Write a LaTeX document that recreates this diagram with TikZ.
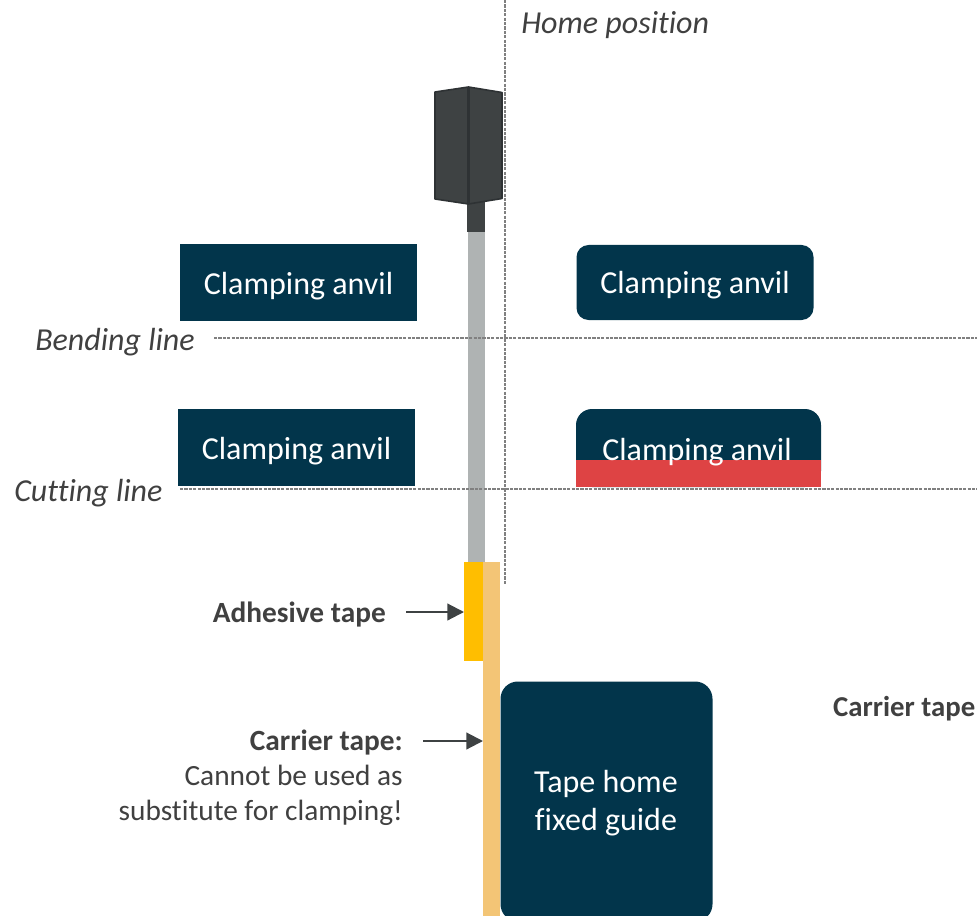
\documentclass[tikz,border=0pt]{standalone}
\usepackage{fontspec}
\setmainfont[Ligatures=CommonOff]{Carlito}
\definecolor{navy}{HTML}{02354B}
\definecolor{darkgrey}{HTML}{3E4243}
\definecolor{edgegrey}{HTML}{2E3234}
\definecolor{rodgrey}{HTML}{AFB3B3}
\definecolor{amber}{HTML}{FFBE00}
\definecolor{tantape}{HTML}{F3C576}
\definecolor{redbar}{HTML}{DE4344}
\definecolor{txt}{HTML}{404040}
\usetikzlibrary{arrows.meta}
\tikzset{
  anvil/.style={fill=navy,draw=none,text=white,minimum width=#1,inner sep=0pt,align=center,font=\fontsize{24}{28}\selectfont},
  anviltext/.style={text=white,inner sep=0pt,font=\fontsize{24}{28}\selectfont},
  dashline/.style={draw=black!50,line width=0.9pt,dash pattern=on 2.4pt off 0.9pt},
  lbl/.style={text=txt,inner sep=0pt,font=\fontsize{24}{28}\selectfont\itshape},
  note/.style={text=txt,inner sep=0pt,font=\fontsize{22}{26.3}\selectfont,align=right},
  notebold/.style={text=txt,inner sep=0pt,font=\fontsize{22}{26.3}\selectfont\bfseries},
  arrowline/.style={draw=darkgrey,line width=1.6pt,-{Triangle[length=12.5pt,width=12.5pt]}}
}
\begin{document}
\begin{tikzpicture}[x=0.75pt,y=-0.75pt]
\useasboundingbox (0,0) rectangle (977,916);
% dashed lines
\coordinate (homeT) at (505,0);
\coordinate (homeB) at (505,584);
\coordinate (bendL) at (214,338);
\coordinate (bendR) at (977,338);
\coordinate (cutL) at (180,489);
\coordinate (cutR) at (977,489);
% rod and holder
\fill[rodgrey] (468,231) rectangle (485,562);
\draw[dashline] (homeT) -- (homeB);
\draw[dashline] (bendL) -- (bendR);
\draw[dashline] (cutL) -- (cutR);
\fill[darkgrey] (467,200) rectangle (485,232);
\draw[fill=darkgrey,draw=edgegrey,line width=1.2pt,line join=round]
  (435,92) -- (468.5,87) -- (468.5,204) -- (435,199) -- cycle;
\draw[fill=darkgrey,draw=edgegrey,line width=1.2pt,line join=round]
  (468.5,87) -- (502,92.5) -- (502,198.5) -- (468.5,204) -- cycle;
\draw[edgegrey,line width=2pt] (468.5,87) -- (468.5,204);
% anvils
\node[anvil=237*0.75pt,minimum height=77*0.75pt] (a1) at (298.5,282.5) {};
\node[anviltext] (a1t) at (298.5,286) {Clamping anvil};
\node[anvil=237*0.75pt,minimum height=75*0.75pt,rounded corners=9pt] (a2) at (695,282.5) {};
\node[anviltext] (a2t) at (695,285.5) {Clamping anvil};
\node[anvil=237*0.75pt,minimum height=77*0.75pt] (a3) at (296.5,447.5) {};
\node[anviltext] (a3t) at (296.5,451) {Clamping anvil};
\node[anvil=245*0.75pt,minimum height=78*0.75pt,rounded corners=12pt] (a4) at (698.5,448) {};
\fill[redbar] (576,460) rectangle (821,487);
\node[anviltext] (a4t) at (697,452) {Clamping anvil};
% tapes
\fill[amber] (464,562) rectangle (484,661);
\fill[tantape] (483,562) rectangle (500,916);
\node[fill=navy,draw=none,rounded corners=13pt,minimum width=212*0.75pt,minimum height=240*0.75pt,inner sep=0pt] (guide) at (606.5,801.5) {};
\node[text=white,inner sep=0pt,align=center,font=\fontsize{24}{28.5}\selectfont] (guidet) at (606,803) {Tape home\\fixed guide};
% labels
\node[lbl,anchor=west] (home) at (521,25) {Home position};
\node[lbl,anchor=west] (bend) at (35,342) {Bending line};
\node[lbl,anchor=west] (cut) at (14,493) {Cutting line};
\node[notebold,anchor=east] (adh) at (386,615) {Adhesive tape};
\node[note,anchor=north east] (car) at (403,730) {\textbf{Carrier tape:}\\Cannot be used as\\substitute for clamping!};
\node[notebold,anchor=east,font=\fontsize{21.6}{26}\selectfont\bfseries] (car2) at (975.5,709) {Carrier tape};
% arrows
\coordinate (ah) at (464,612);
\coordinate (ch) at (483,741);
\coordinate (as) at (406,612);
\coordinate (cs) at (423,741);
\draw[arrowline] (as) -- (ah);
\draw[arrowline] (cs) -- (ch);
\end{tikzpicture}
\end{document}
